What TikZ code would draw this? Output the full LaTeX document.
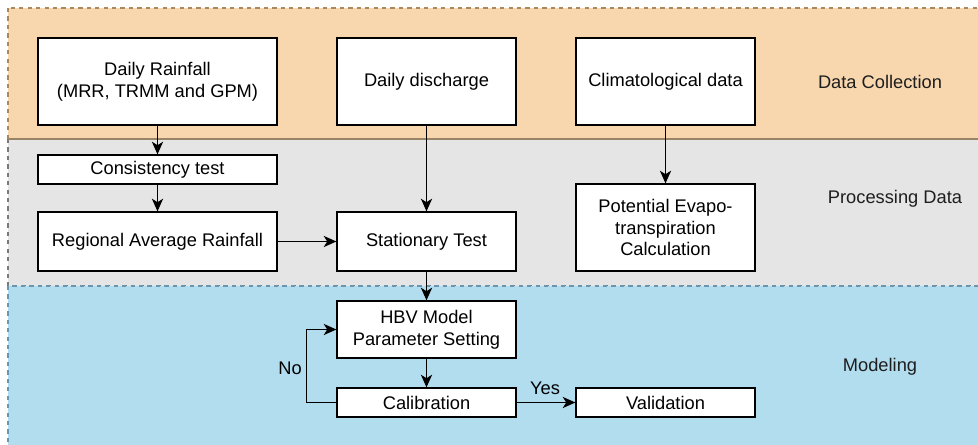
\documentclass[tikz,border=0pt]{standalone}
\usepackage{fontspec}
\setmainfont{Liberation Sans}
\usetikzlibrary{arrows.meta}
\usetikzlibrary{positioning}
\definecolor{bandorange}{HTML}{F9D7AE}
\definecolor{bandgray}{HTML}{E5E5E5}
\definecolor{bandblue}{HTML}{B1DDEF}
\definecolor{edgeorange}{HTML}{A8885E}
\definecolor{edgegray}{HTML}{7A7A7A}
\definecolor{edgeblue}{HTML}{6A95B0}
\definecolor{labelgray}{HTML}{1E1E1E}
\tikzset{box/.style={draw, fill=white, line width=0.9pt, align=center, inner sep=2pt,
  font=\fontsize{13}{15.6}\selectfont}}
\tikzset{band/.style={dashed, line width=0.8pt, dash pattern=on 3pt off 3pt}}
\tikzset{tag/.style={draw=none, text=labelgray, font=\fontsize{13}{15.6}\selectfont}}
\tikzset{flow/.style={-{Stealth[length=9pt,width=8pt,inset=2.5pt]}, line width=0.9pt}}

\begin{document}
\begin{tikzpicture}[x=0.025cm, y=-0.025cm]
\useasboundingbox (0,0) rectangle (978,445);
% bands
\filldraw [band, fill=bandorange, draw=edgeorange] (8,8) rectangle (990,139);
\filldraw [band, fill=bandgray, draw=edgegray] (8,139) rectangle (990,286);
\filldraw [band, fill=bandblue, draw=edgeblue] (8,286) rectangle (990,460);
\draw [line width=0.8pt, draw=edgeorange!70!edgegray] (8,139) -- (990,139);

%\node [tag] at (490,0) {Flow};
\node [tag] (coll) at (880, 82) {Data Collection};
\node [tag] (proc) at (895, 199) {Processing Data};
\node [tag] (model) at (880, 367) {Modeling};

\node [box, minimum width=5.975cm, minimum height=2.175cm] (rain) at (157.5, 81.5) {Daily Rainfall\\(MRR, TRMM and GPM)};
\node [box, minimum width=4.475cm, minimum height=2.175cm] (dis) at (426.5, 81.5) {Daily discharge};
\node [box, minimum width=4.475cm, minimum height=2.175cm] (clim) at (665.5, 81.5) {Climatological data};
\node [box, minimum width=5.975cm, minimum height=0.725cm] (cons) at (157.5, 169.5) {Consistency test};
\node [box, minimum width=5.975cm, minimum height=1.475cm] (reg) at (157.5, 241.5) {Regional Average Rainfall};
\node [box, minimum width=4.475cm, minimum height=1.475cm] (stat) at (426.5, 241.5) {Stationary Test};
\node [box, minimum width=4.475cm, minimum height=2.175cm] (pet) at (665.5, 227.5) {Potential Evapo-\\transpiration\\Calculation};
\node [box, minimum width=4.475cm, minimum height=1.425cm] (hbv) at (426.5, 329.5) {HBV Model\\Parameter Setting};
\node [box, minimum width=4.475cm, minimum height=0.725cm] (cal) at (426.5, 402.5) {Calibration};
\node [box, minimum width=4.475cm, minimum height=0.725cm] (val) at (665.5, 402.5) {Validation};

\node [tag, text=black] (no) at (290, 368) {No};
\node [tag, text=black] (yes) at (545, 388) {Yes};

\draw [flow] (rain) to (cons);
\draw [flow] (cons) to (reg);
\draw [flow] (dis) to (stat);
\draw [flow] (clim) to (pet);
\draw [flow] (reg) to (stat);
\draw [flow] (stat) to (hbv);
\draw [flow] (hbv) to (cal);
\draw [flow] (cal) to (val);
\draw [flow] (cal.west) -- ++(-30,0) |- (hbv.west);
\end{tikzpicture}
\end{document}
